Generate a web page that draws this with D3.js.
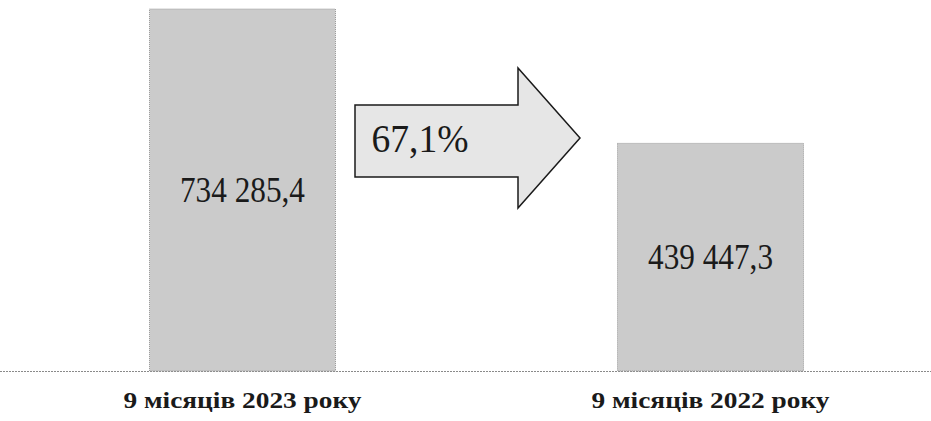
<!DOCTYPE html>
<html>
<head>
<meta charset="utf-8">
<script src="https://cdn.jsdelivr.net/npm/d3@7"></script>
<style>
  html, body { margin: 0; padding: 0; background: #fff; }
  svg { display: block; }
  text { font-family: "Times New Roman", Times, "Liberation Serif", "Nimbus Roman", serif; }
</style>
</head>
<body>
<main></main>
<script>
// values
const periods = ["9 місяців 2023 року", "9 місяців 2022 року"];
const amounts = [734285.4, 439447.3];
const amountLabels = ["734 285,4", "439 447,3"];
const ratioLabel = "67,1%";

const width = 931;
const height = 421;
const baseY = 371;

let svg = d3.select("main")
    .append("svg")
    .attr("width", width)
    .attr("height", height)
    .attr("viewBox", [0, 0, width, height])

let x = d3.scaleBand()
    .domain(periods)
    .range([149.5, 803.5])
    .paddingInner(0.6026)
    .paddingOuter(0)

// the scan's bars do not start at zero, lower bound picked to fit them
let y = d3.scaleLinear()
    .domain([-60000, 734285.4])
    .range([baseY, 9])

let data = periods.map((p, i) => ({period: p, value: amounts[i], label: amountLabels[i]}))

// baseline
svg.append("line")
    .attr("x1", 0)
    .attr("x2", width)
    .attr("y1", baseY + 0.5)
    .attr("y2", baseY + 0.5)
    .attr("stroke", "#8a8a8a")
    .attr("stroke-width", 1)
    .attr("stroke-dasharray", "2,1")

svg.append("g")
    .selectAll("rect")
    .data(data)
    .enter()
    .append("rect")
    .attr("x", d => x(d.period))
    .attr("width", x.bandwidth())
    .attr("y", d => y(d.value))
    .attr("height", d => baseY - y(d.value))
    .attr("fill", "#cbcbcb")
    .attr("stroke", "#9a9a9a")
    .attr("stroke-width", 1)
    .attr("stroke-dasharray", "1,1")

svg.append("g")
    .selectAll("text")
    .data(data)
    .enter()
    .append("text")
    .attr("x", d => x(d.period) + x.bandwidth() / 2)
    .attr("y", d => (y(d.value) + baseY) / 2)
    .attr("dy", "0.35em")
    .attr("text-anchor", "middle")
    .attr("font-size", 35)
    .attr("textLength", 125)
    .attr("lengthAdjust", "spacingAndGlyphs")
    .attr("fill", "#1a1a1a")
    .text(d => d.label)

// category labels under the baseline
svg.append("g")
    .selectAll("text")
    .data(data)
    .enter()
    .append("text")
    .attr("x", d => x(d.period) + x.bandwidth() / 2)
    .attr("y", 408)
    .attr("text-anchor", "middle")
    .attr("font-weight", "bold")
    .attr("font-size", 23)
    .attr("textLength", 238)
    .attr("lengthAdjust", "spacingAndGlyphs")
    .attr("fill", "#1a1a1a")
    .text(d => d.period)

// arrow between the bars
let arrow = {left: 355, neck: 518, tip: 580, shaftTop: 105, shaftBottom: 177, headTop: 68, headBottom: 208, mid: 138}
let pts = [
    [arrow.left, arrow.shaftTop], [arrow.neck, arrow.shaftTop], [arrow.neck, arrow.headTop],
    [arrow.tip, arrow.mid], [arrow.neck, arrow.headBottom], [arrow.neck, arrow.shaftBottom],
    [arrow.left, arrow.shaftBottom]
]
svg.append("path")
    .attr("d", d3.line()(pts) + "Z")
    .attr("fill", "#e6e6e6")
    .attr("stroke", "#1a1a1a")
    .attr("stroke-width", 1.5)
    .attr("stroke-linejoin", "miter")

svg.append("text")
    .attr("x", 420)
    .attr("y", 152)
    .attr("text-anchor", "middle")
    .attr("font-size", 39)
    .attr("textLength", 97)
    .attr("lengthAdjust", "spacingAndGlyphs")
    .attr("fill", "#1a1a1a")
    .text(ratioLabel)
</script>
</body>
</html>
